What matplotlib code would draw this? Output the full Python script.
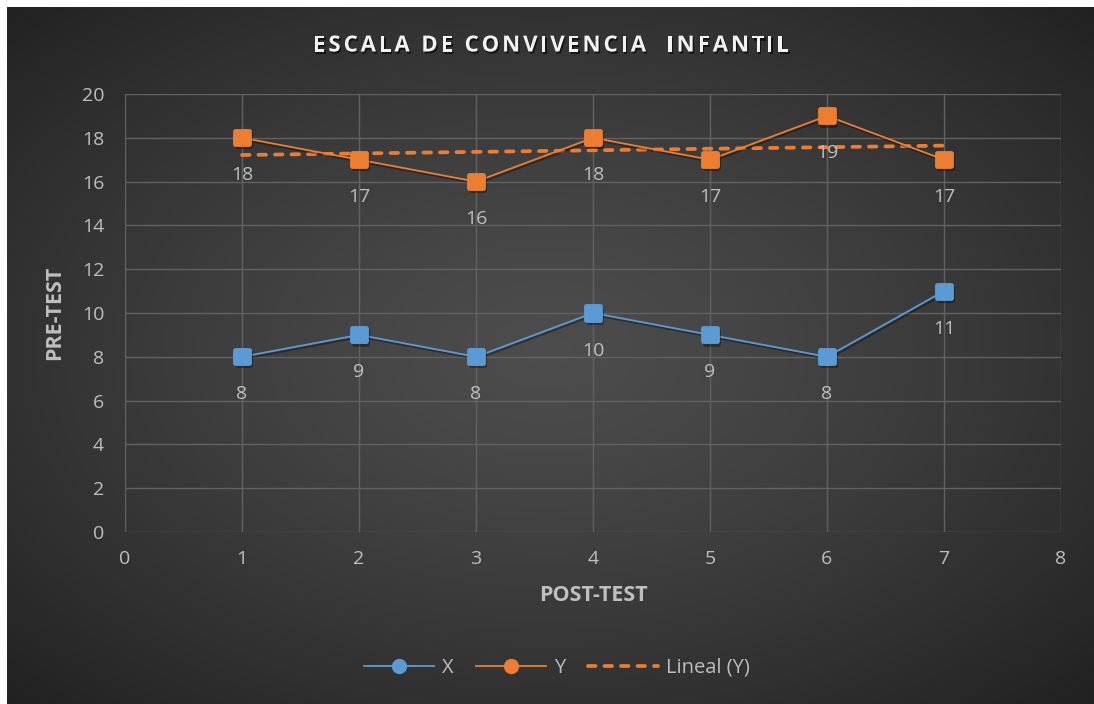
import matplotlib

matplotlib.use("Agg")
import matplotlib.pyplot as plt
import matplotlib.patheffects as pe
import numpy as np
from matplotlib.lines import Line2D
from matplotlib.markers import MarkerStyle
from matplotlib.patches import Rectangle

plt.rcParams["font.family"] = ["Open Sans", "DejaVu Sans"]

# data
post_test = [1, 2, 3, 4, 5, 6, 7]
pre_x = [8, 9, 8, 10, 9, 8, 11]
pre_y = [18, 17, 16, 18, 17, 19, 17]
title = "ESCALA DE CONVIVENCIA  INFANTIL"

BLUE = "#5B9BD5"
ORANGE = "#ED7D31"
TXT = "#BFBFBF"
GRID = "#626262"

W, H = 1094, 704
fig = plt.figure(figsize=(W / 100, H / 100), dpi=100, facecolor="#262626")

# --- dark radial gradient background ---
bg = fig.add_axes([0, 0, 1, 1])
bg.set_axis_off()
gx, gy = np.meshgrid(np.linspace(-1, 1, 400), np.linspace(-1, 1, 260))
r = np.sqrt(gx ** 2 + gy ** 2) / np.sqrt(2)
shade = 0.30 - 0.17 * r ** 1.3
bg.imshow(np.dstack([shade] * 3), aspect="auto", extent=[0, 1, 0, 1])
bg.set_xlim(0, 1)
bg.set_ylim(0, 1)
# white strips at top and left, as in the screenshot
bg.add_patch(Rectangle((0, 1 - 7 / H), 1, 7 / H, color="white", lw=0))
bg.add_patch(Rectangle((0, 0), 7 / W, 1, color="white", lw=0))

# --- plot area ---
ax = fig.add_axes([125 / W, 1 - 532 / H, 936 / W, 438 / H])
ax.patch.set_alpha(0)
ax.set_xlim(0, 8)
ax.set_ylim(0, 20)
ax.set_xticks(range(0, 9))
ax.set_yticks(range(0, 21, 2))
ax.grid(True, color=GRID, linewidth=1.0)
ax.set_axisbelow(True)
for s in ax.spines.values():
    s.set_visible(False)
ax.tick_params(length=0, labelsize=14, labelcolor=TXT)
ax.tick_params(axis="x", pad=13)
ax.tick_params(axis="y", pad=15)

shadow = [pe.SimpleLineShadow(offset=(1, -1.5), shadow_color="black", alpha=0.35), pe.Normal()]
rsq = MarkerStyle("s", joinstyle="round")

for vals, col in [(pre_x, BLUE), (pre_y, ORANGE)]:
    ax.plot(post_test, vals, color=col, linewidth=1.3, marker=rsq, markersize=9.5,
            markeredgewidth=3.5, markeredgecolor=col, path_effects=shadow, zorder=3)
    for xv, yv in zip(post_test, vals):
        ax.annotate(str(yv), (xv, yv), xytext=(0, -27), textcoords="offset points",
                    ha="center", va="center", fontsize=14, color=TXT)

# linear trend for Y
slope, inter = np.polyfit(post_test, pre_y, 1)
tx = np.array([post_test[0], post_test[-1]])
trend_kw = dict(color=ORANGE, linewidth=2.7, linestyle=(0, (2.0, 2.4)), dash_capstyle="round")
ax.plot(tx, slope * tx + inter, zorder=2, **trend_kw)

ax.set_xlabel("POST-TEST", fontsize=15.5, fontweight="bold", color=TXT, labelpad=12)
ax.set_ylabel("PRE-TEST", fontsize=15.5, fontweight="bold", color=TXT, labelpad=12)

# title with letter spacing (drawn char by char)
renderer = fig.canvas.get_renderer()
tkw = dict(fontsize=16, fontweight="bold", color="#F2F2F2", va="center", ha="left",
           path_effects=[pe.withSimplePatchShadow(offset=(1, -1.5), shadow_rgbFace="black",
                                                   alpha=0.6)])


def _w(s):
    t = fig.text(0, 0, s, **tkw)
    w = t.get_window_extent(renderer).width
    t.remove()
    return w


widths = [(_w("a" + c + "a") - _w("aa")) for c in title]
target = 476
spacing = (target - sum(widths)) / (len(title) - 1)
xpos = 551 - target / 2
for c, w in zip(title, widths):
    if c != " ":
        fig.text(xpos / W, 1 - 46 / H, c, **tkw)
    xpos += w + spacing

handles = [
    Line2D([], [], color=BLUE, linewidth=1.3, marker="o", markersize=11, markeredgewidth=0),
    Line2D([], [], color=ORANGE, linewidth=1.3, marker="o", markersize=11, markeredgewidth=0),
    Line2D([], [], **trend_kw),
]
fig.legend(handles, ["X", "Y", "Lineal (Y)"], loc="center", bbox_to_anchor=(557 / W, 1 - 668 / H),
           ncol=3, frameon=False, fontsize=14.5, labelcolor=TXT, handlelength=3.5,
           columnspacing=1.1, handletextpad=0.4)

fig.savefig("out.png", dpi=100, facecolor=fig.get_facecolor())
